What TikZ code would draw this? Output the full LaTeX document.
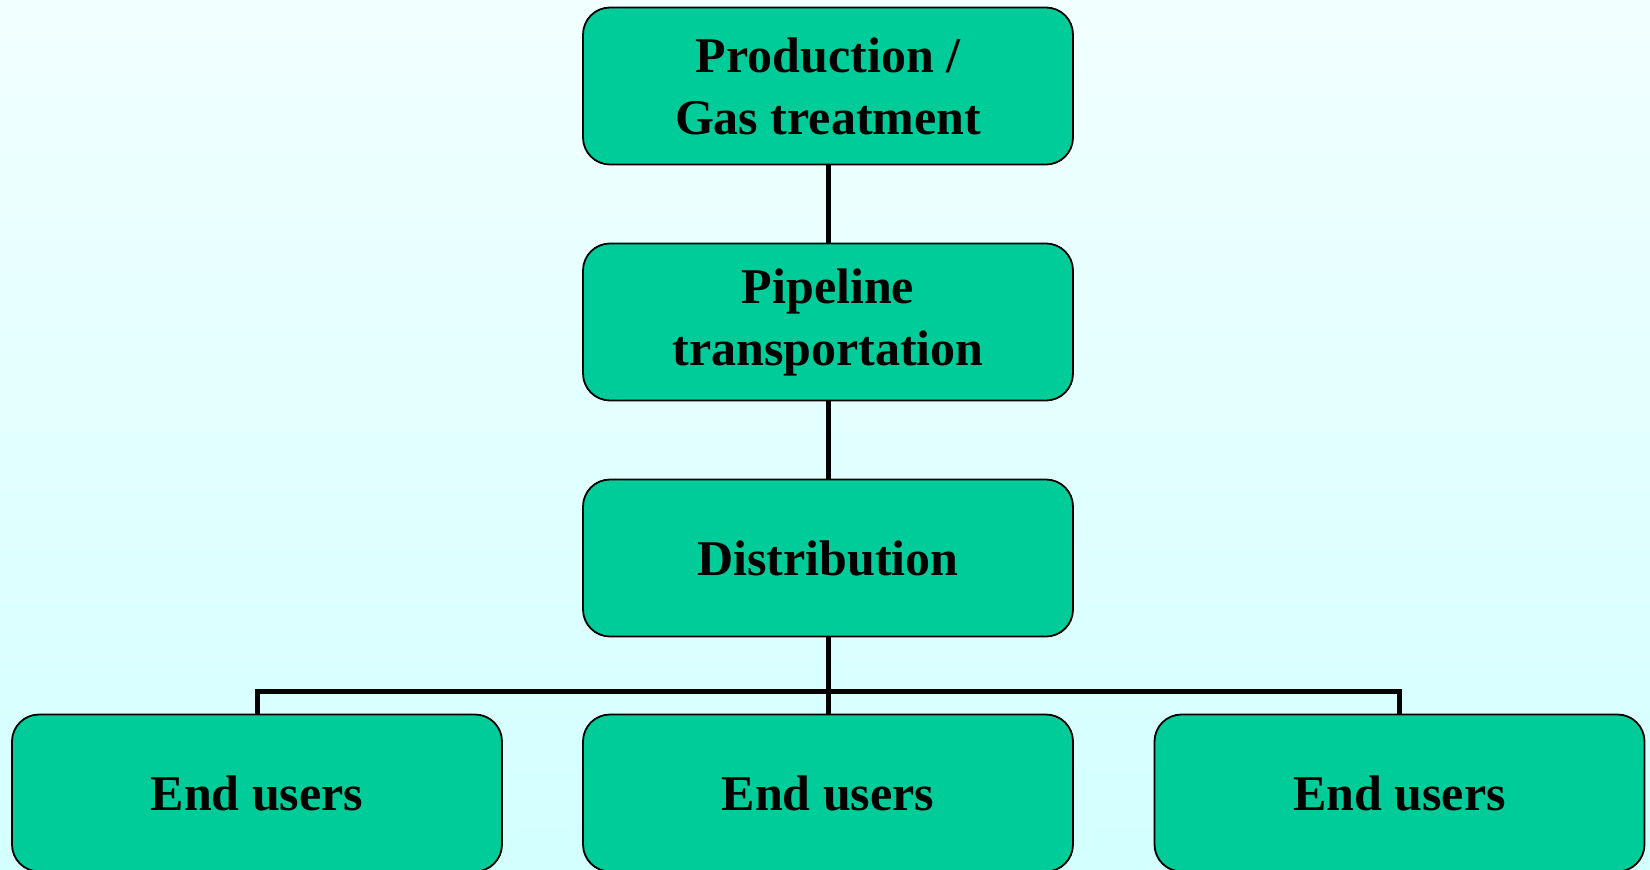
\documentclass[tikz,border=0pt]{standalone}
\usepackage{fontspec}
\setmainfont{Liberation Serif}
\definecolor{boxfill}{HTML}{00CC99}
\definecolor{bgtop}{HTML}{F2FFFF}
\definecolor{bgbot}{HTML}{D3FFFF}
\begin{document}
\begin{tikzpicture}[x=1pt,y=-1pt,
  stagebox/.style={draw=black, line width=1.8pt, fill=boxfill, rounded corners=27pt,
    minimum width=490pt, minimum height=157pt, inner sep=0pt, align=center,
    font=\fontsize{50}{62}\selectfont\bfseries},
  link/.style={line width=5pt, draw=black}]
\shade[top color=bgtop, bottom color=bgbot] (0,0) rectangle (1650,870);
\useasboundingbox (0,0) rectangle (1650,870);
\node[stagebox] (prod) at (828,86) {\raisebox{-3pt}{\parbox{480pt}{\centering Production /\\Gas treatment}}};
\node[stagebox] (pipe) at (828,322) {\raisebox{-3pt}{\parbox{480pt}{\centering Pipeline\\transportation}}};
\node[stagebox] (dist) at (828,558) {\raisebox{-2pt}{Distribution}};
\node[stagebox] (eu1) at (257,793) {\raisebox{-2pt}{End users}};
\node[stagebox] (eu2) at (828,793) {\raisebox{-2pt}{End users}};
\node[stagebox] (eu3) at (1399.5,793) {\raisebox{-2pt}{End users}};
\coordinate (bus) at (828,691);
\draw[link] (prod.south) -- (pipe.north);
\draw[link] (pipe.south) -- (dist.north);
\draw[link] (dist.south) -- (eu2.north);
\draw[link] (eu1.north) |- (bus) -| (eu3.north);
\end{tikzpicture}
\end{document}
